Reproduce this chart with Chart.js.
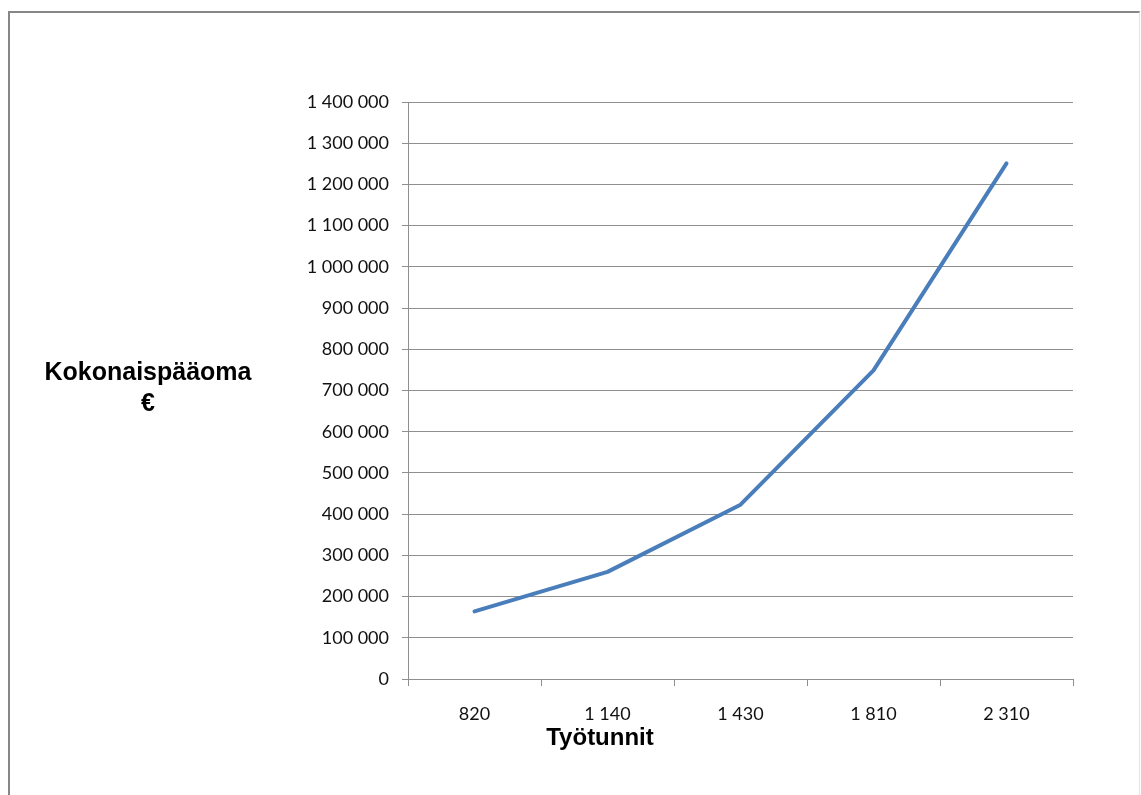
<!DOCTYPE html>
<html lang="fi">
<head>
<meta charset="utf-8">
<title>Kokonaispääoma ja työtunnit</title>
<script src="https://cdn.jsdelivr.net/npm/chart.js@4.4.1/dist/chart.umd.min.js"></script>
<style>
  html, body { margin: 0; padding: 0; background: #ffffff; }
  body { width: 1141px; height: 795px; position: relative; overflow: hidden; }
  #chart { position: absolute; left: 0; top: 0; }
  #frame {
    position: absolute; left: 8px; top: 11px; width: 1129px; height: 800px;
    border-left: 2px solid #878787; border-top: 2px solid #878787;
    border-right: 1px solid #e4e4e4; pointer-events: none;
  }
</style>
</head>
<body>
<canvas id="chart" width="1141" height="795"></canvas>
<div id="frame"></div>
<script>
// Työtunnit (x-akseli) ja kokonaispääoma euroina (y-akseli)
const categories = ['820', '1 140', '1 430', '1 810', '2 310'];
const capitalValues = [164000, 260000, 423000, 749000, 1251000];

// Y-akselin asteikko
const yMin = 0;
const yMax = 1400000;
const yStep = 100000;

const xTitle = 'Työtunnit';
const yTitleLines = ['Kokonaispääoma', '€'];

// Tuhaterottimena välilyönti: 1400000 -> "1 400 000"
function formatThousands(v) {
  return String(Math.round(v)).replace(/\B(?=(\d{3})+(?!\d))/g, ' ');
}

const axisGray = '#8f8f8f';
const tickFont = { family: 'Lato', size: 18 };

// Akselien otsikot piirretään vaakasuoraan omalla laajennuksella
const axisTitles = {
  id: 'axisTitles',
  afterDraw(chart) {
    const { ctx, chartArea } = chart;
    ctx.save();
    ctx.fillStyle = '#000000';
    ctx.textAlign = 'center';
    ctx.textBaseline = 'alphabetic';
    ctx.font = 'bold 25px "Liberation Sans", Arial, sans-serif';
    ctx.fillText(yTitleLines[0], chartArea.left - 260, chartArea.top + 278);
    ctx.fillText(yTitleLines[1], chartArea.left - 260, chartArea.top + 309);
    ctx.font = 'bold 24px "Liberation Sans", Arial, sans-serif';
    ctx.fillText(xTitle, chartArea.left + 192, chartArea.bottom + 66);
    ctx.restore();
  }
};

new Chart(document.getElementById('chart'), {
  type: 'line',
  data: {
    labels: categories,
    datasets: [{
      label: 'Kokonaispääoma',
      data: capitalValues,
      borderColor: '#4a7ebb',
      backgroundColor: '#4a7ebb',
      borderWidth: 4,
      borderCapStyle: 'round',
      borderJoinStyle: 'round',
      tension: 0,
      pointRadius: 0,
      fill: false
    }]
  },
  options: {
    responsive: false,
    animation: false,
    layout: { padding: { left: 0, top: 102, right: 68, bottom: 0 } },
    plugins: {
      legend: { display: false },
      tooltip: { enabled: false },
      title: { display: false }
    },
    scales: {
      x: {
        type: 'category',
        offset: true,
        grid: {
          offset: true,
          drawOnChartArea: false,
          drawTicks: true,
          tickLength: 7,
          color: axisGray,
          lineWidth: 1
        },
        border: { display: true, color: axisGray, width: 1 },
        ticks: {
          color: '#111111',
          font: tickFont,
          padding: 17,
          maxRotation: 0,
          autoSkip: false
        },
        afterFit(scale) { scale.height = 116; }
      },
      y: {
        min: yMin,
        max: yMax,
        grid: {
          drawTicks: true,
          tickLength: 6,
          color: axisGray,
          lineWidth: 1
        },
        border: { display: true, color: axisGray, width: 1 },
        ticks: {
          stepSize: yStep,
          color: '#111111',
          font: tickFont,
          padding: 13,
          callback: (v) => formatThousands(v)
        },
        afterFit(scale) { scale.width = 408; }
      }
    }
  },
  plugins: [axisTitles]
});
</script>
</body>
</html>
